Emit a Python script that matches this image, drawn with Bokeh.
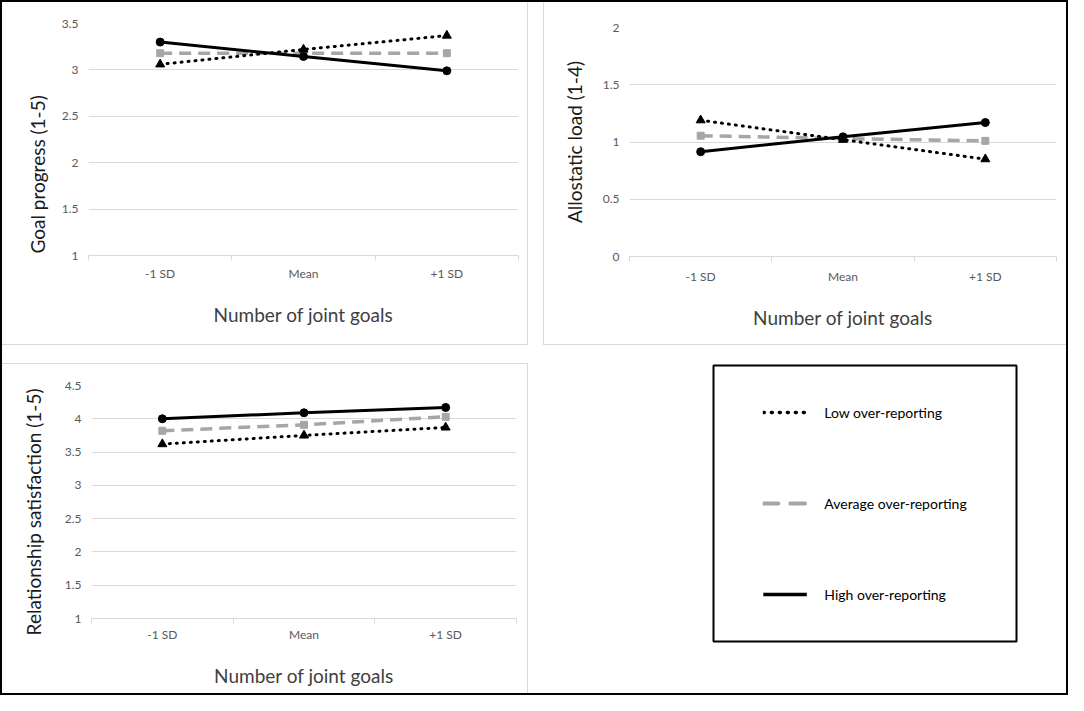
from bokeh.plotting import figure
from bokeh.models import Range1d, FixedTicker, Legend, LegendItem, Title
from bokeh.layouts import row, column
from bokeh.embed import file_html
from bokeh.resources import INLINE

# ---------------- data ----------------
categories = ["-1 SD", "Mean", "+1 SD"]
series_names = ["Low over-reporting", "Average over-reporting", "High over-reporting"]

goal_low = [3.06, 3.22, 3.37]
goal_avg = [3.18, 3.18, 3.18]
goal_high = [3.30, 3.145, 2.99]

allo_low = [1.19, 1.02, 0.85]
allo_avg = [1.055, 1.03, 1.01]
allo_high = [0.915, 1.045, 1.17]

rel_low = [3.62, 3.75, 3.87]
rel_avg = [3.82, 3.91, 4.03]
rel_high = [4.00, 4.09, 4.17]

goal_ticks = [1, 1.5, 2, 2.5, 3, 3.5]
goal_tick_labels = ["1", "1.5", "2", "2.5", "3", "3.5"]
allo_ticks = [0, 0.5, 1, 1.5, 2]
allo_tick_labels = ["0", "0.5", "1", "1.5", "2"]
rel_ticks = [1, 1.5, 2, 2.5, 3, 3.5, 4, 4.5]
rel_tick_labels = ["1", "1.5", "2", "2.5", "3", "3.5", "4", "4.5"]

x_title = "Number of joint goals"
y_titles = ["Goal progress (1-5)", "Allostatic load (1-4)", "Relationship satisfaction (1-5)"]

# ---------------- styling ----------------
FONT = "Lato"
GRID = "#d9d9d9"
GREY_SERIES = "#a6a6a6"
TICK_COLOR = "#595959"

cat_pos = [i + 0.5 for i in range(len(categories))]
cat_edges = list(range(len(categories) + 1))

LOW_STYLE = dict(line_color="black", line_width=3, line_dash="1 6", line_cap="round")
AVG_STYLE = dict(line_color=GREY_SERIES, line_width=3.5, line_dash="12 7")
HIGH_STYLE = dict(line_color="black", line_width=3)


def make_panel(width, height, borders, yrange, ticks, tick_labels, ylabel,
               low, avg, high, ylab_pos, x_tick_std, x_std, css):
    p = figure(width=width, height=height,
               x_range=Range1d(0, len(categories)), y_range=Range1d(*yrange),
               output_backend="svg", toolbar_location=None,
               min_border_left=borders[0], min_border_right=borders[1],
               min_border_top=borders[2], min_border_bottom=borders[3],
               background_fill_color="white", border_fill_color="white",
               frame_align=False)
    p.outline_line_color = None
    p.styles = css

    # x axis (categories centred in bins, tick marks at bin edges)
    p.xaxis.ticker = FixedTicker(ticks=cat_pos, minor_ticks=cat_edges)
    p.xaxis.major_label_overrides = {float(x): c for x, c in zip(cat_pos, categories)}
    p.xaxis.axis_line_color = GRID
    p.xaxis.axis_line_width = 1
    p.xaxis.major_tick_line_color = None
    p.xaxis.major_tick_out = 0
    p.xaxis.major_tick_in = 0
    p.xaxis.minor_tick_line_color = GRID
    p.xaxis.minor_tick_out = 5
    p.xaxis.minor_tick_in = 0
    p.xaxis.major_label_standoff = x_tick_std
    p.xaxis.major_label_text_font = FONT
    p.xaxis.major_label_text_font_size = "12px"
    p.xaxis.major_label_text_color = TICK_COLOR
    p.xaxis.axis_label = x_title
    p.xaxis.axis_label_text_font = FONT
    p.xaxis.axis_label_text_font_size = "19px"
    p.xaxis.axis_label_text_font_style = "normal"
    p.xaxis.axis_label_text_color = "#404040"
    p.xaxis.axis_label_standoff = x_std

    # y axis
    p.yaxis.ticker = FixedTicker(ticks=ticks, minor_ticks=[])
    p.yaxis.major_label_overrides = {float(t): s for t, s in zip(ticks, tick_labels)}
    p.yaxis.axis_line_color = None
    p.yaxis.major_tick_line_color = None
    p.yaxis.minor_tick_line_color = None
    p.yaxis.major_tick_out = 0
    p.yaxis.major_tick_in = 0
    p.yaxis.major_label_standoff = 10
    p.yaxis.major_label_text_font = FONT
    p.yaxis.major_label_text_font_size = "12px"
    p.yaxis.major_label_text_color = TICK_COLOR

    # y title as a side title (allows placing it along the axis like the original)
    standoff, align, offset = ylab_pos
    p.add_layout(Title(text=ylabel, align=align, offset=offset,
                       standoff=standoff, text_font=FONT,
                       text_font_size="19px", text_font_style="normal",
                       text_color="#1a1a1a"), "left")

    p.xgrid.visible = False
    p.ygrid.grid_line_color = GRID
    p.ygrid.grid_line_width = 1

    # series
    p.line(cat_pos, avg, **AVG_STYLE)
    p.scatter(cat_pos, avg, marker="square", size=7, fill_color=GREY_SERIES,
              line_color=GREY_SERIES)
    p.line(cat_pos, low, **LOW_STYLE)
    p.scatter(cat_pos, low, marker="triangle", size=9, fill_color="black",
              line_color="black")
    p.line(cat_pos, high, **HIGH_STYLE)
    p.scatter(cat_pos, high, marker="circle", size=8, fill_color="black",
              line_color="black")
    return p


f1 = make_panel(526, 343, (86, 10, 21, 90), (1, 3.5), goal_ticks, goal_tick_labels,
                y_titles[0], goal_low, goal_avg, goal_high,
                (20, "left", 2), 5, 19,
                {"border-right": "1px solid #d9d9d9", "border-bottom": "1px solid #d9d9d9"})
f2 = make_panel(523, 343, (85, 11, 25, 89), (0, 2), allo_ticks, allo_tick_labels,
                y_titles[1], allo_low, allo_avg, allo_high,
                (27, "center", 0), 7, 19,
                {"border-left": "1px solid #d9d9d9", "border-bottom": "1px solid #d9d9d9"})
f3 = make_panel(526, 330, (86, 12, 21, 76), (1, 4.5), rel_ticks, rel_tick_labels,
                y_titles[2], rel_low, rel_avg, rel_high,
                (34, "right", 3), 3, 19,
                {"border-right": "1px solid #d9d9d9", "border-top": "1px solid #d9d9d9"})

# legend panel (the frame outline is the legend box)
f4 = figure(width=523, height=330, x_range=Range1d(0, 1), y_range=Range1d(0, 1),
            output_backend="svg", toolbar_location=None,
            x_axis_location=None, y_axis_location=None,
            min_border_left=170, min_border_right=50,
            min_border_top=2, min_border_bottom=52,
            background_fill_color="white", border_fill_color="white",
            frame_align=False)
f4.grid.visible = False
f4.outline_line_color = "black"
f4.outline_line_width = 2

nan = float("nan")
r_low = f4.line(x=[nan], y=[nan], line_color="black", line_width=3.5,
                line_dash="1 7", line_cap="round")
r_avg = f4.line(x=[nan], y=[nan], line_color=GREY_SERIES, line_width=4,
                line_dash="15 12", line_cap="round")
r_high = f4.line(x=[nan], y=[nan], line_color="black", line_width=3.5)

legend = Legend(items=[LegendItem(label=series_names[0], renderers=[r_low]),
                       LegendItem(label=series_names[1], renderers=[r_avg]),
                       LegendItem(label=series_names[2], renderers=[r_high])],
                location="center", orientation="vertical",
                glyph_width=44, glyph_height=20, label_height=20,
                label_standoff=18, spacing=71, padding=0, margin=0,
                label_text_font=FONT, label_text_font_size="14px",
                label_text_color="black",
                border_line_alpha=0, background_fill_alpha=0)
f4.add_layout(legend, "center")

top = row(f1, f2, spacing=15)
bottom = row(f3, f4, spacing=15)
p = column(top, bottom, spacing=18,
           styles={"border": "2px solid black", "background-color": "white"})

open("out.html", "w").write(file_html(p, INLINE))
